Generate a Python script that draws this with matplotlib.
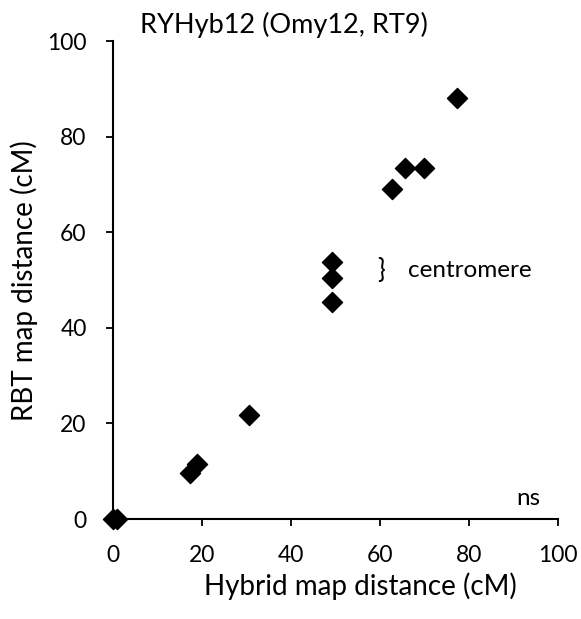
import matplotlib
matplotlib.use("Agg")
import matplotlib.pyplot as plt

hybrid_cM = [0.0, 0.9, 17.3, 18.9, 30.6, 49.2, 49.2, 49.2, 62.7, 65.6, 69.9, 77.3]
rbt_cM = [0.0, 0.0, 9.7, 11.6, 21.8, 53.8, 50.5, 45.5, 69.0, 73.5, 73.5, 88.0]
ticks = [0, 20, 40, 60, 80, 100]

plt.rcParams['font.family'] = ['Lato', 'DejaVu Sans']

W, H = 581, 619
fig = plt.figure(figsize=(W/100, H/100), dpi=100)
ax = fig.add_axes([113/W, 1 - 519/H, 445/W, 478/H])
ax.scatter(hybrid_cM, rbt_cM, marker='D', s=105, color='black', zorder=3, clip_on=False)
ax.set_xlim(0, 100)
ax.set_ylim(0, 100)
ax.set_xticks(ticks)
ax.set_yticks(ticks)
ax.tick_params(labelsize=16.5, direction='out', length=5, width=1.3)
ax.tick_params(axis='x', pad=14)
ax.tick_params(axis='y', pad=14)
for s in ['top', 'right']:
    ax.spines[s].set_visible(False)
for s in ['left', 'bottom']:
    ax.spines[s].set_linewidth(1.5)

fig.text(360/W, 1 - 595/H, 'Hybrid map distance (cM)', fontsize=20, ha='center', va='baseline')
fig.text(10/W, 1 - 281/H, 'RBT map distance (cM)', fontsize=20, ha='left', va='center', rotation=90)
fig.text(140/W, 1 - 33/H, 'RYHyb12 (Omy12, RT9)', fontsize=19.5, ha='left', va='baseline')
ax.text(59.3, 51.9, '}', fontsize=18.5, ha='left', va='center')
ax.text(66.3, 51.9, 'centromere', fontsize=17.5, ha='left', va='center')
ax.text(90.6, 2.9, 'ns', fontsize=17.5, ha='left', va='baseline')

fig.savefig('out.png', dpi=100)
